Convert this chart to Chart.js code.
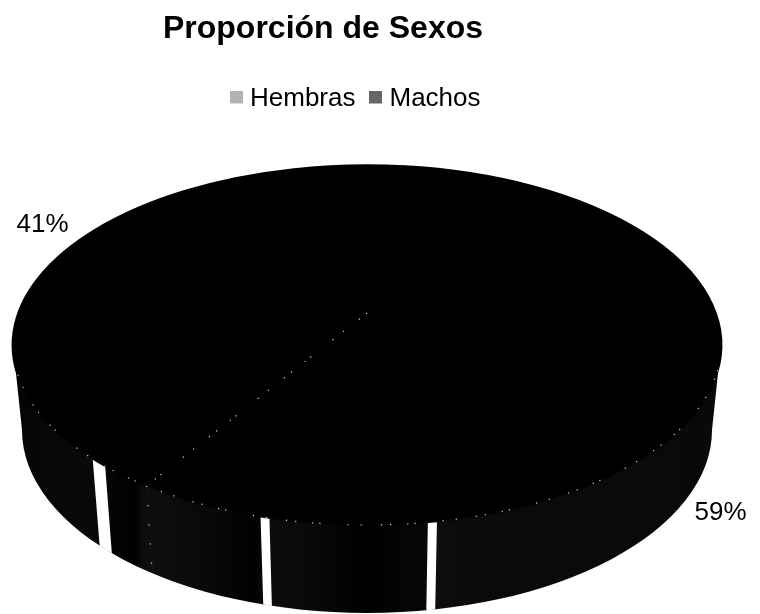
<!DOCTYPE html>
<html lang="es">
<head>
<meta charset="utf-8">
<title>Proporción de Sexos</title>
<script src="https://cdn.jsdelivr.net/npm/chart.js@4/dist/chart.umd.js"></script>
<style>
  html, body { margin: 0; padding: 0; background: #fff; }
  canvas { display: block; }
</style>
</head>
<body>
<canvas id="sexos" width="760" height="614"></canvas>
<script>
// Values
const categories = ['Hembras', 'Machos'];
const percentages = [41, 59];
const chartTitle = 'Proporción de Sexos';

// Colours
const legendColors = ['#b2b2b2', '#666666'];
const topFaceColor = '#000000';
const dotColor = '#d8d8d8';

// Pie geometry on the page: an ellipse for the top face and a slightly
// narrower one for the base, with the hub pulled up by the perspective.
const topFace = { x: 367, y: 345, rx: 354, ry: 180 };
const baseFace = { x: 367, y: 430, rx: 345, ry: 183 };
const hubY = 313;
const firstSliceRotation = 218.5;

// Pale highlights on the side wall, as angle ranges in degrees
const wallHighlights = [[137.7, 140.8], [106, 107.5], [78.6, 80.1]];
// Very dark banding of the wall, left to right across its width
const wallBands = [
  [0.00, '#030303'], [0.05, '#080808'], [0.12, '#0a090a'], [0.17, '#000000'],
  [0.19, '#110e10'], [0.25, '#0b0a0b'], [0.28, '#090809'], [0.34, '#010101'],
  [0.36, '#0e0c0e'], [0.42, '#080908'], [0.50, '#000000'], [0.58, '#080708'],
  [0.60, '#0e0c0d'], [0.70, '#0a0a0a'], [0.85, '#0a0a0a'], [1.00, '#090909']
];

// Uneven spacing of the specks along the seam and the rim
const speckDash = [1.2, 8, 1.2, 19, 1.2, 12, 1.2, 27, 1.2, 6, 1.2, 16];

// Percent labels: offset from the rim point at the middle of each slice
const labelOffsets = [[3, -52], [26, 100]];

const rad = d => d * Math.PI / 180;
const rimX = (f, a) => f.x + f.rx * Math.cos(a);
const rimY = (f, a) => f.y + f.ry * Math.sin(a);

// Legend swatch: the spare rows at the bottom lift it level with the text
function swatch(color) {
  const c = document.createElement('canvas');
  c.width = 13;
  c.height = 17;
  const g = c.getContext('2d');
  g.fillStyle = color;
  g.fillRect(0, 0, 13, 13);
  return c;
}

const pie3d = {
  id: 'pie3d',
  afterLayout(chart) {
    // Title and legend sit on their own centres, left of the canvas middle
    const t = chart.titleBlock;
    t.left = 0; t.right = 646; t.top = 0;
    const l = chart.legend;
    l.left = 0; l.right = 452 + l.lineWidths[0]; l.top = 66; l.bottom = 66 + l.height;
  },
  beforeDatasetsDraw(chart) {
    const { ctx } = chart;
    // Side wall
    ctx.save();
    ctx.beginPath();
    ctx.ellipse(topFace.x, topFace.y, topFace.rx, topFace.ry, 0, 0, Math.PI);
    ctx.ellipse(baseFace.x, baseFace.y, baseFace.rx, baseFace.ry, 0, Math.PI, 0, true);
    ctx.closePath();
    const left = topFace.x - topFace.rx, width = topFace.rx * 2;
    const shade = ctx.createLinearGradient(left, 0, left + width, 0);
    wallBands.forEach(([at, color]) => shade.addColorStop(at, color));
    ctx.fillStyle = shade;
    ctx.fill();

    ctx.fillStyle = '#ffffff';
    wallHighlights.forEach(([from, to]) => {
      ctx.beginPath();
      ctx.ellipse(topFace.x, topFace.y, topFace.rx, topFace.ry, 0, rad(from), rad(to));
      ctx.ellipse(baseFace.x, baseFace.y, baseFace.rx, baseFace.ry, 0, rad(to), rad(from), true);
      ctx.closePath();
      ctx.fill();
    });
    ctx.restore();

    // The slices themselves are drawn by the library, flattened onto the top face
    const arc = chart.getDatasetMeta(0).data[0];
    const r = arc.outerRadius;
    ctx.save();
    ctx.translate(topFace.x, topFace.y);
    ctx.scale(topFace.rx / r, topFace.ry / r);
    ctx.translate(-arc.x, -arc.y);
  },
  afterDatasetsDraw(chart) {
    const { ctx } = chart;
    ctx.restore();
    const arcs = chart.getDatasetMeta(0).data;

    // Sparse light specks along the slice seam and the front rim
    const seam = arcs[0].startAngle;
    ctx.save();
    ctx.strokeStyle = dotColor;
    ctx.lineWidth = 1.2;
    ctx.setLineDash(speckDash);
    ctx.beginPath();
    ctx.moveTo(topFace.x, hubY);
    ctx.lineTo(rimX(topFace, seam), rimY(topFace, seam));
    ctx.stroke();
    ctx.beginPath();
    ctx.ellipse(topFace.x, topFace.y, topFace.rx, topFace.ry, 0, rad(8), rad(172));
    ctx.stroke();
    ctx.setLineDash([1.2, 18]);
    ctx.beginPath();
    ctx.moveTo(rimX(topFace, seam), rimY(topFace, seam));
    ctx.lineTo(rimX(baseFace, seam), rimY(baseFace, seam));
    ctx.stroke();
    ctx.restore();

    // Percent labels
    ctx.save();
    ctx.fillStyle = '#000000';
    ctx.font = '26px "Liberation Sans", Arial, sans-serif';
    ctx.textAlign = 'center';
    ctx.textBaseline = 'middle';
    arcs.forEach((a, i) => {
      const mid = (a.startAngle + a.endAngle) / 2;
      const [dx, dy] = labelOffsets[i];
      ctx.fillText(percentages[i] + '%', rimX(topFace, mid) + dx, rimY(topFace, mid) + dy);
    });
    ctx.restore();
  }
};

new Chart(document.getElementById('sexos'), {
  type: 'pie',
  data: {
    labels: categories,
    datasets: [{
      data: percentages,
      backgroundColor: topFaceColor,
      borderColor: topFaceColor,
      borderWidth: 2,
      clip: false
    }]
  },
  options: {
    responsive: false,
    animation: false,
    rotation: firstSliceRotation,
    events: [],
    plugins: {
      title: {
        display: true,
        text: chartTitle,
        color: '#000000',
        font: { family: '"Liberation Sans", Arial, sans-serif', size: 32, weight: 'bold' },
        padding: { top: 10, bottom: 10 }
      },
      legend: {
        display: true,
        position: 'top',
        labels: {
          color: '#000000',
          font: { family: '"Liberation Sans", Arial, sans-serif', size: 26 },
          usePointStyle: true,
          pointStyleWidth: 1,
          padding: 20,
          generateLabels: chart => chart.data.labels.map((text, index) => ({
            text,
            index,
            fillStyle: legendColors[index],
            strokeStyle: legendColors[index],
            lineWidth: 0,
            hidden: false,
            pointStyle: swatch(legendColors[index])
          }))
        }
      },
      tooltip: { enabled: false }
    }
  },
  plugins: [pie3d]
});
</script>
</body>
</html>
